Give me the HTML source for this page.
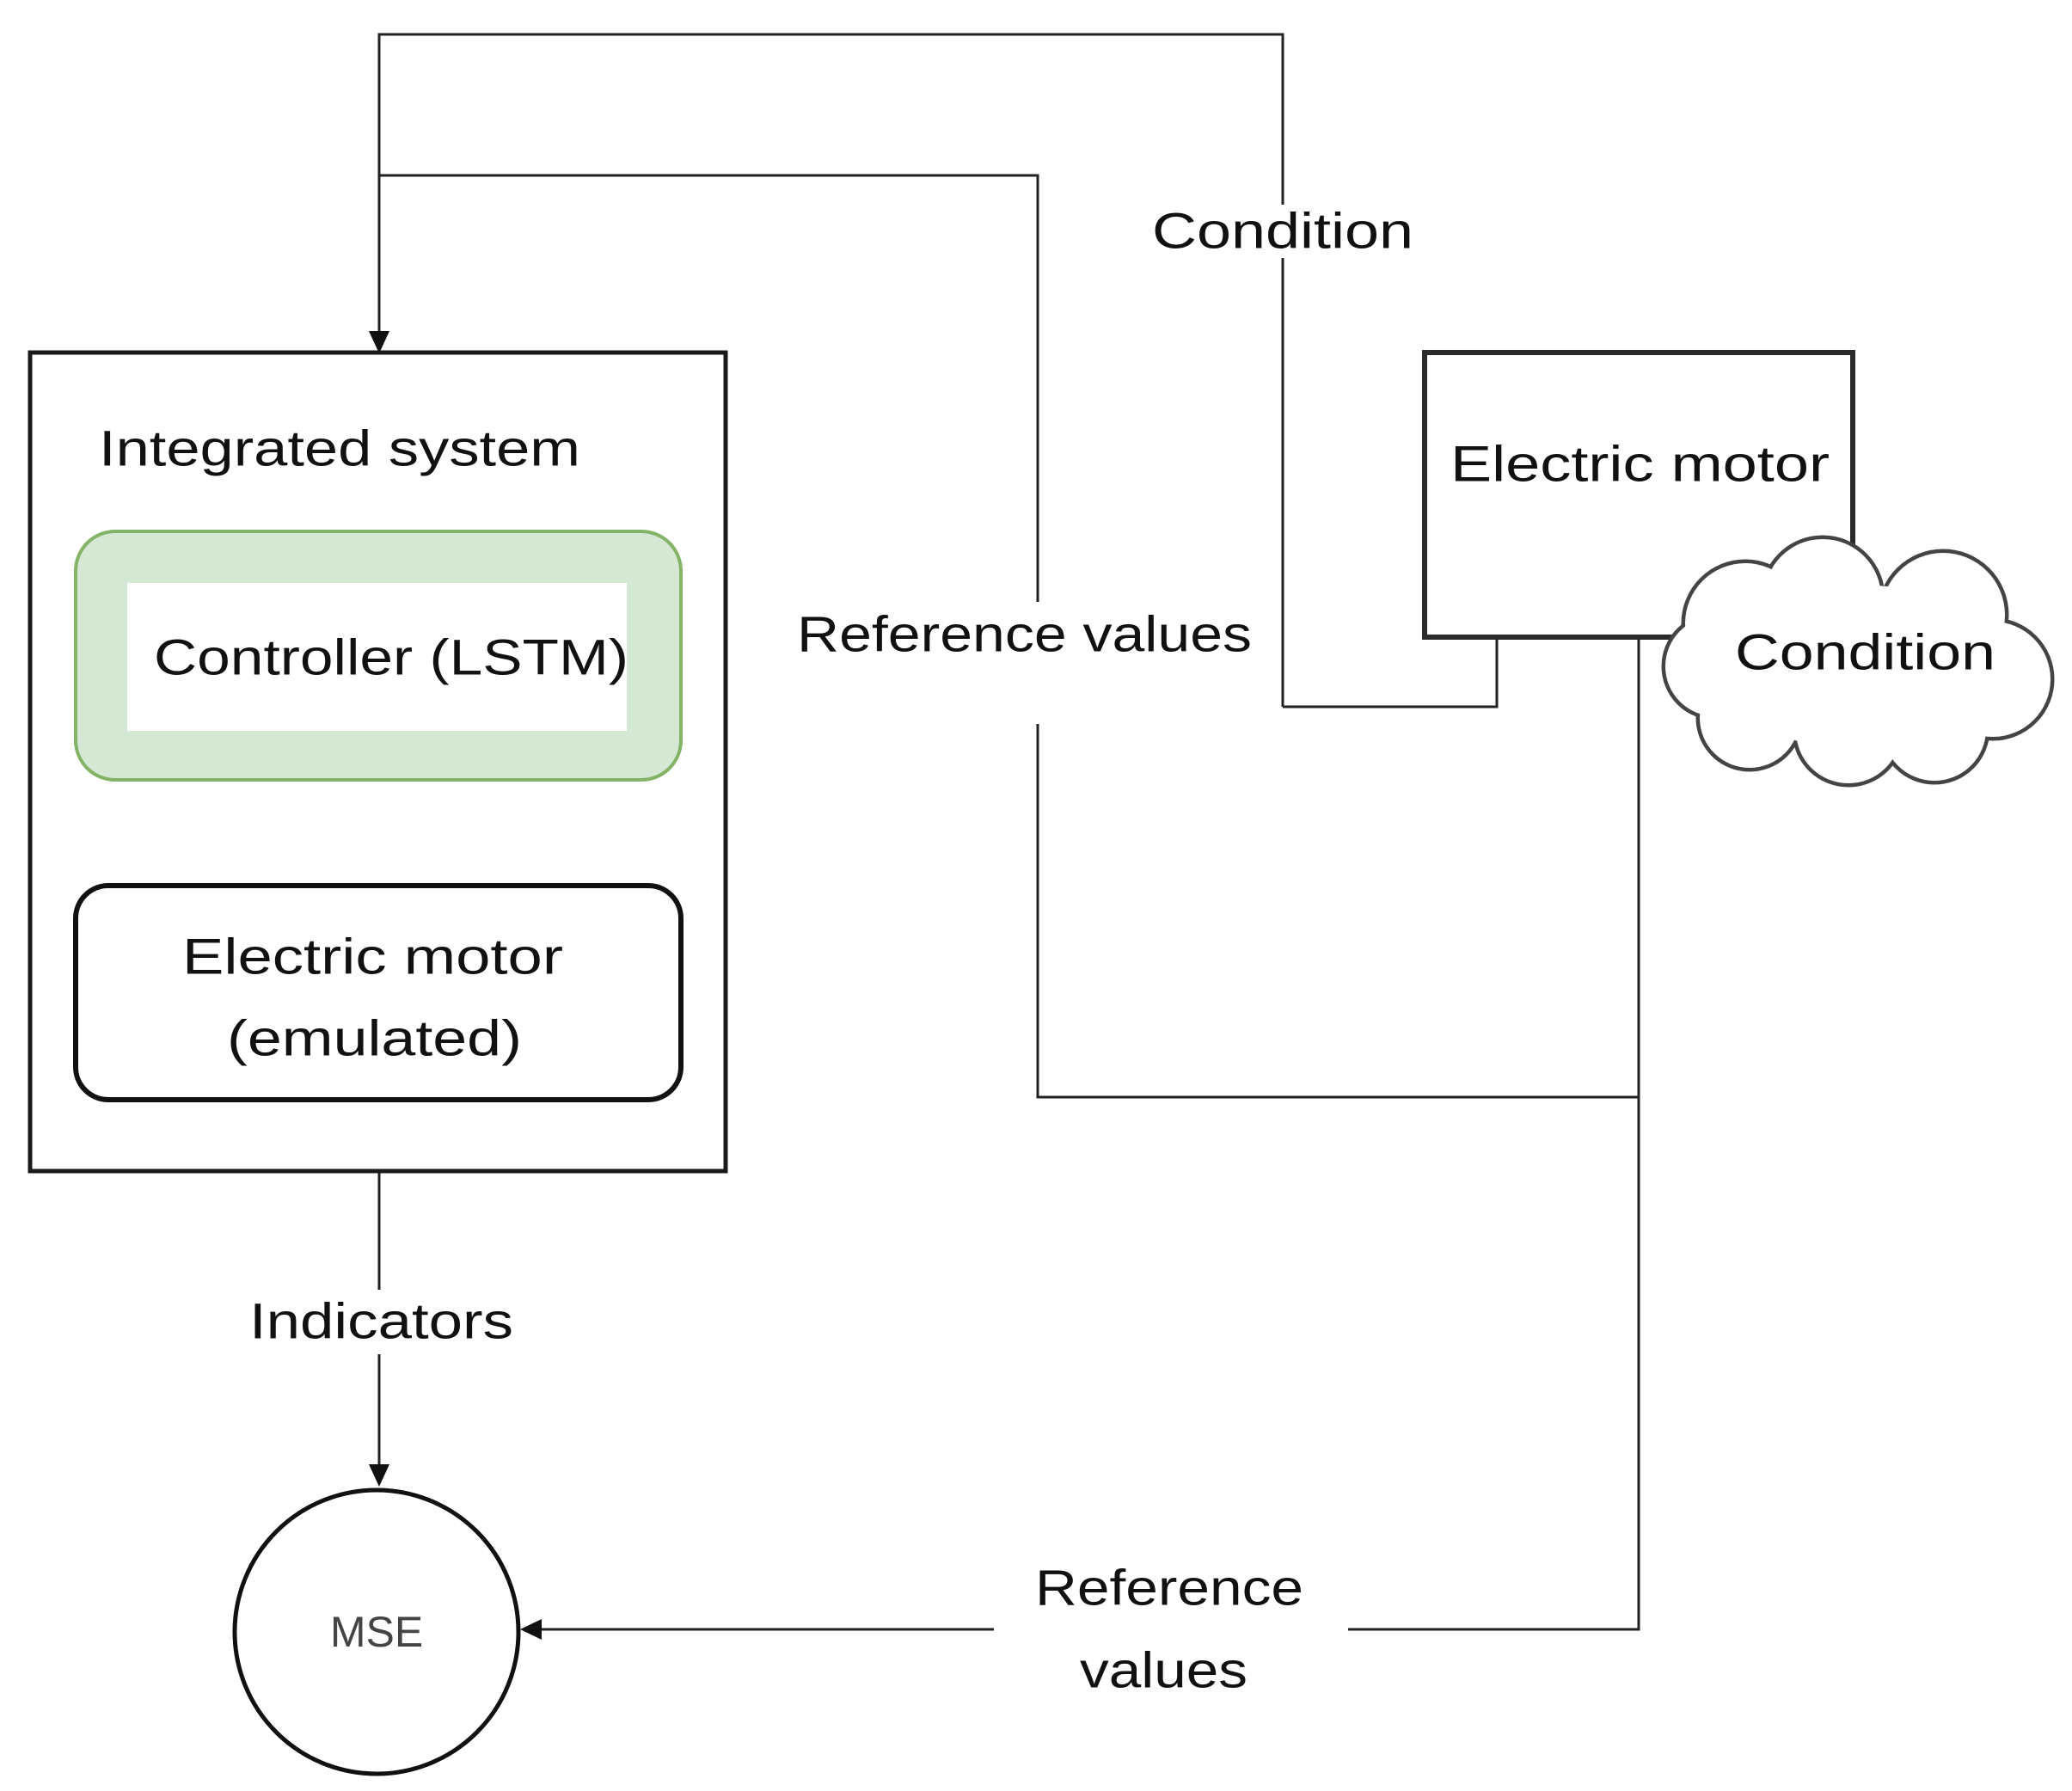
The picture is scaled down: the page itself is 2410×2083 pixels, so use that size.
<!DOCTYPE html>
<html><head><meta charset="utf-8"><style>html,body{margin:0;padding:0;background:#fff}svg{display:block}</style></head>
<body>
<svg width="2410" height="2083" viewBox="0 0 2410 2083" xmlns="http://www.w3.org/2000/svg" font-family="'Liberation Sans', sans-serif">
<rect width="2410" height="2083" fill="#fff"/>
<g stroke="#222" stroke-width="3" fill="none">
  <polyline points="1492,822 1492,40 441,40 441,392"/>
  <polyline points="441,204 1207,204 1207,700"/>
  <polyline points="1207,842 1207,1276 1906,1276"/>
  <polyline points="1492,822 1741,822 1741,741"/>
  <polyline points="1906,741 1906,1895 1568,1895"/>
  <line x1="1156" y1="1895" x2="625" y2="1895"/>
  <line x1="441" y1="1362" x2="441" y2="1500"/>
  <line x1="441" y1="1575" x2="441" y2="1708"/>
</g>
<g fill="#111">
  <polygon points="429,385 453,385 441,411"/>
  <polygon points="429,1703 453,1703 441,1729"/>
  <polygon points="630,1883 630,1907 605,1895"/>
</g>
<rect x="1440" y="238" width="104" height="62" fill="#fff"/>
<!-- Integrated system -->
<rect x="35" y="410" width="809" height="952" fill="none" stroke="#1a1a1a" stroke-width="5"/>
<rect x="88" y="618" width="704" height="289" rx="46" fill="#d5e8d4" stroke="#82b366" stroke-width="4"/>
<rect x="148" y="678" width="581" height="172" fill="#fff"/>
<rect x="88" y="1030" width="704" height="249" rx="38" fill="#fff" stroke="#111" stroke-width="6"/>
<circle cx="438" cy="1898" r="165" fill="#fff" stroke="#111" stroke-width="5"/>
<!-- Electric motor box -->
<rect x="1657" y="410" width="498" height="331" fill="#fff" stroke="#2a2a2a" stroke-width="6"/>
<!-- Cloud -->
<g stroke="#444" stroke-width="9">
  <circle cx="2030" cy="725" r="70"/><circle cx="2120" cy="695" r="68"/><circle cx="2260" cy="715" r="72"/>
  <circle cx="2318" cy="790" r="67"/><circle cx="2250" cy="848" r="60"/><circle cx="2150" cy="850" r="61"/>
  <circle cx="2035" cy="835" r="58"/><circle cx="1995" cy="775" r="58"/>
</g>
<g fill="#fff">
  <circle cx="2030" cy="725" r="70"/><circle cx="2120" cy="695" r="68"/><circle cx="2260" cy="715" r="72"/>
  <circle cx="2318" cy="790" r="67"/><circle cx="2250" cy="848" r="60"/><circle cx="2150" cy="850" r="61"/>
  <circle cx="2035" cy="835" r="58"/><circle cx="1995" cy="775" r="58"/>
  <ellipse cx="2160" cy="775" rx="170" ry="95"/>
</g>
<g font-size="58" fill="#111" dominant-baseline="central">
  <text x="115" y="522" textLength="560" lengthAdjust="spacingAndGlyphs">Integrated system</text>
  <text x="179" y="765" textLength="552" lengthAdjust="spacingAndGlyphs">Controller (LSTM)</text>
  <text x="212" y="1113" textLength="443" lengthAdjust="spacingAndGlyphs">Electric motor</text>
  <text x="264" y="1208" textLength="343" lengthAdjust="spacingAndGlyphs">(emulated)</text>
  <text x="290" y="1537" textLength="307" lengthAdjust="spacingAndGlyphs">Indicators</text>
  <text x="1340" y="269" textLength="304" lengthAdjust="spacingAndGlyphs">Condition</text>
  <text x="927" y="738" textLength="529" lengthAdjust="spacingAndGlyphs">Reference values</text>
  <text x="1687" y="540" textLength="441" lengthAdjust="spacingAndGlyphs">Electric motor</text>
  <text x="2018" y="759" textLength="303" lengthAdjust="spacingAndGlyphs">Condition</text>
  <text x="1204" y="1847" textLength="312" lengthAdjust="spacingAndGlyphs">Reference</text>
  <text x="1256" y="1943" textLength="195" lengthAdjust="spacingAndGlyphs">values</text>
</g>
<text x="438" y="1898" font-size="50" fill="#444" text-anchor="middle" dominant-baseline="central">MSE</text>
</svg>
</body></html>
